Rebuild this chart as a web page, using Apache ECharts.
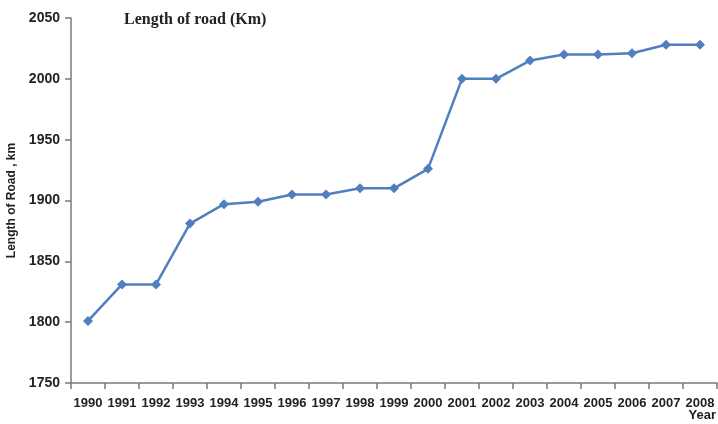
<!DOCTYPE html>
<html>
<head>
<meta charset="utf-8">
<script src="https://cdn.jsdelivr.net/npm/echarts@6/dist/echarts.min.js"></script>
<style>
  html, body { margin: 0; padding: 0; background: #fff; }
  #chart { width: 718px; height: 424px; }
</style>
</head>
<body>
<div id="chart"></div>
<script>
const years = ['1990', '1991', '1992', '1993', '1994', '1995', '1996', '1997', '1998', '1999',
  '2000', '2001', '2002', '2003', '2004', '2005', '2006', '2007', '2008']
const roadLength = [1801, 1831, 1831, 1881, 1897, 1899, 1905, 1905, 1910, 1910,
  1926, 2000, 2000, 2015, 2020, 2020, 2021, 2028, 2028]

const labelFont = "'Liberation Sans Narrow', 'Liberation Sans', sans-serif"
const axisGray = '#7a7a7a'

const chart = echarts.init(document.getElementById('chart'))
chart.setOption({
  animation: false,
  grid: { left: 71, right: 1, top: 18, bottom: 41, outerBoundsMode: 'none' },
  title: {
    text: 'Length of road (Km)',
    left: 119, top: 7,
    textStyle: { fontFamily: "'Liberation Serif', serif", fontSize: 16, fontWeight: 'bold', color: '#222' }
  },
  graphic: [{
    type: 'text', right: 2, top: 409,
    style: { text: 'Year', font: "bold 13px " + labelFont, fill: '#222' }
  }],
  xAxis: {
    type: 'category',
    data: years,
    boundaryGap: true,
    axisLine: { lineStyle: { color: axisGray, width: 1.5 } },
    axisTick: { show: true, alignWithLabel: false, interval: 0, length: 6, lineStyle: { color: axisGray, width: 1.5 } },
    axisLabel: { interval: 0, margin: 14, color: '#222', fontSize: 13, fontWeight: 'bold', fontFamily: labelFont },
    splitLine: { show: false }
  },
  yAxis: {
    type: 'value',
    min: 1750, max: 2050, interval: 50,
    name: 'Length of Road , km',
    nameLocation: 'middle',
    nameGap: 49,
    nameTextStyle: { color: '#222', fontSize: 12, fontWeight: 'bold', fontFamily: labelFont },
    axisLine: { show: true, lineStyle: { color: axisGray, width: 1.5 } },
    axisTick: { show: true, length: 6, lineStyle: { color: axisGray, width: 1.5 } },
    axisLabel: {
      margin: 11, color: '#222', fontSize: 14, fontWeight: 'bold', fontFamily: labelFont,
      formatter: v => String(v)
    },
    splitLine: { show: false }
  },
  series: [{
    type: 'line',
    data: roadLength,
    symbol: 'diamond',
    symbolSize: 10,
    lineStyle: { color: '#4f7fbe', width: 2.5 },
    itemStyle: { color: '#4f7fbe' }
  }]
})
</script>
</body>
</html>
